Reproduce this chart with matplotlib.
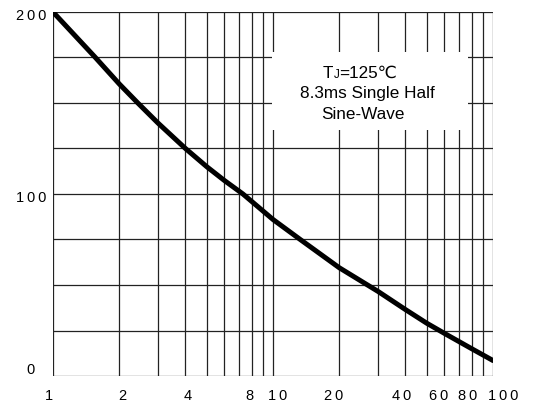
import matplotlib.pyplot as plt
from matplotlib.patches import Rectangle
from matplotlib.transforms import ScaledTranslation

plt.rcParams['font.family'] = ['Liberation Sans', 'DejaVu Sans']

# curve (log x)
cycles = [1, 1.55, 2, 2.43, 3, 4, 5, 6, 7.3, 10, 13.3, 20, 30, 40, 50, 60, 80, 100]
current = [200, 175.3, 160.5, 150, 139, 125, 115, 107.5, 100, 86, 75, 59.5, 46.5, 36.5, 29, 23.5, 15, 8.5]

ts = '\u2009'
x_ticks = [1, 2, 4, 8, 10, 20, 40, 60, 80, 100]
x_labels = ['1', '2', '4', '8', '1' + ts + '0', '2' + ts + '0', '4' + ts + '0',
            '6' + ts + '0', '8' + ts + '0', '1' + ts + '0' + ts + '0']
x_label_shift = [-4, 3, 2, -2, 5, -6, -4, -6, -4, 10]   # pixels right
y_ticks = [0, 100, 200]
y_labels = ['0', '1' + ts + '0' + ts + '0', '2' + ts + '0' + ts + '0']
y_label_shift = [8, -3, -3]   # pixels up
v_grid = [1, 2, 3, 4, 5, 6, 7, 8, 9, 10, 20, 30, 40, 50, 60, 70, 80, 90, 100]
h_grid = [0, 25, 50, 75, 100, 125, 150, 175, 200]

fig = plt.figure(figsize=(5.35, 4.08), dpi=100)
ax = fig.add_axes([53 / 535, 1 - 376 / 408, 440 / 535, 364 / 408])

ax.set_xscale('log')
ax.set_xlim(1, 100)
ax.set_ylim(0, 200)

for v in v_grid:
    ax.axvline(v, color='#222222', lw=0.9, zorder=1)
for h in h_grid:
    ax.axhline(h, color='#222222', lw=0.9, zorder=1)

# white box behind the note
ax.add_patch(Rectangle((219 / 440, 246 / 364), 196 / 440, 78 / 364,
                       transform=ax.transAxes, facecolor='white',
                       edgecolor='none', zorder=2))

ax.plot(cycles, current, color='black', lw=3.6, zorder=3,
        solid_capstyle='round', solid_joinstyle='round')

for s in ax.spines.values():
    s.set_visible(False)

ax.set_xticks(x_ticks)
ax.set_xticklabels(x_labels)
ax.minorticks_off()
ax.set_yticks(y_ticks)
ax.set_yticklabels(y_labels)
ax.tick_params(axis='both', length=0, labelsize=10.5)
ax.tick_params(axis='x', pad=9.5)
ax.tick_params(axis='y', pad=16)
for lab, dx in zip(ax.get_xticklabels(), x_label_shift):
    lab.set_transform(lab.get_transform() +
                      ScaledTranslation(dx / 100, 0, fig.dpi_scale_trans))
for lab, dy in zip(ax.get_yticklabels(), y_label_shift):
    lab.set_ha('center')
    lab.set_transform(lab.get_transform() +
                      ScaledTranslation(0, dy / 100, fig.dpi_scale_trans))

# note text
fs = 12.3
yb1 = (376 - 77.7) / 364
t = ax.text((323 - 53) / 440, yb1, 'T', transform=ax.transAxes,
            fontsize=fs, va='baseline', ha='left', zorder=4)
j = ax.annotate('J', xy=(1.0, yb1), xycoords=(t, 'axes fraction'),
                fontsize=8.5, va='baseline', ha='left', zorder=4)
ax.annotate('=125℃', xy=(1.0, yb1), xycoords=(j, 'axes fraction'),
            fontsize=fs, va='baseline', ha='left', zorder=4)
ax.text((367.5 - 53) / 440, (376 - 97.7) / 364, '8.3ms Single Half',
        transform=ax.transAxes, fontsize=fs, va='baseline', ha='center',
        zorder=4)
ax.text((362.5 - 53) / 440, (376 - 119) / 364, 'Sine-Wave',
        transform=ax.transAxes, fontsize=fs, va='baseline', ha='center',
        zorder=4)

fig.savefig('out.png', dpi=100)
